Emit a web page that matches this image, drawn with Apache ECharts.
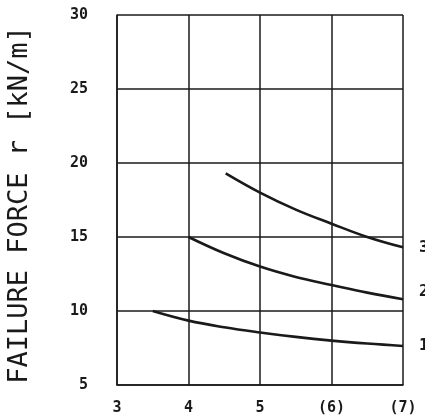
<!DOCTYPE html>
<html>
<head>
<meta charset="utf-8">
<script src="https://cdn.jsdelivr.net/npm/echarts@6/dist/echarts.min.js"></script>
<style>
  html, body { margin: 0; padding: 0; background: #fff; }
  #chart { width: 425px; height: 420px; }
</style>
</head>
<body>
<div id="chart"></div>
<script>
// curve data
const xTicks = { 3: '3', 4: '4', 5: '5', 6: '(6)', 7: '(7)' };
const curve1X = [3.5, 4, 4.5, 5, 5.5, 6, 6.5, 7];
const curve1Y = [10, 9.35, 8.9, 8.55, 8.25, 8.0, 7.8, 7.64];
const curve2X = [4, 4.5, 5, 5.5, 6, 6.5, 7];
const curve2Y = [15, 13.9, 13.0, 12.3, 11.76, 11.24, 10.8];
const curve3X = [4.52, 5, 5.5, 6, 6.5, 7];
const curve3Y = [19.3, 18.0, 16.85, 15.9, 15.0, 14.3];
const curveNames = ['1', '2', '3'];

const font = '"DejaVu Sans Mono", monospace';
const ink = '#1a1a1a';

const pairs = (xs, ys) => xs.map((x, i) => [x, ys[i]]);

const makeSeries = (name, xs, ys, dy) => ({
  name: name,
  type: 'line',
  data: pairs(xs, ys),
  smooth: 0.4,
  symbol: 'none',
  lineStyle: { color: ink, width: 2.6 },
  endLabel: {
    show: true,
    formatter: name,
    distance: 16,
    offset: [0, dy],
    color: ink,
    fontFamily: font,
    fontWeight: 'bold',
    fontSize: 16
  }
});

const chart = echarts.init(document.getElementById('chart'));
chart.setOption({
  animation: false,
  grid: { left: 117, right: 22, top: 15, bottom: 35, outerBoundsMode: 'none', containLabel: false },
  xAxis: {
    type: 'value',
    min: 3, max: 7, interval: 1,
    axisLine: { lineStyle: { color: ink, width: 1.5 } },
    axisTick: { show: false },
    splitLine: { lineStyle: { color: ink, width: 1.5 } },
    axisLabel: {
      formatter: v => xTicks[v],
      margin: 16,
      color: ink,
      fontFamily: font,
      fontWeight: 'bold',
      fontSize: 15
    }
  },
  yAxis: {
    type: 'value',
    min: 5, max: 30, interval: 5,
    name: 'FAILURE FORCE r [kN/m]',
    nameLocation: 'middle',
    nameGap: 84,
    nameTextStyle: { color: ink, fontFamily: font, fontSize: 27, padding: [0, 10, 0, 0] },
    axisLine: { show: true, lineStyle: { color: ink, width: 1.5 } },
    axisTick: { show: false },
    splitLine: { lineStyle: { color: ink, width: 1.5 } },
    axisLabel: {
      margin: 29,
      color: ink,
      fontFamily: font,
      fontWeight: 'bold',
      fontSize: 15
    }
  },
  series: [
    makeSeries(curveNames[0], curve1X, curve1Y, 0),
    makeSeries(curveNames[1], curve2X, curve2Y, -7),
    makeSeries(curveNames[2], curve3X, curve3Y, 0)
  ]
});
</script>
</body>
</html>
